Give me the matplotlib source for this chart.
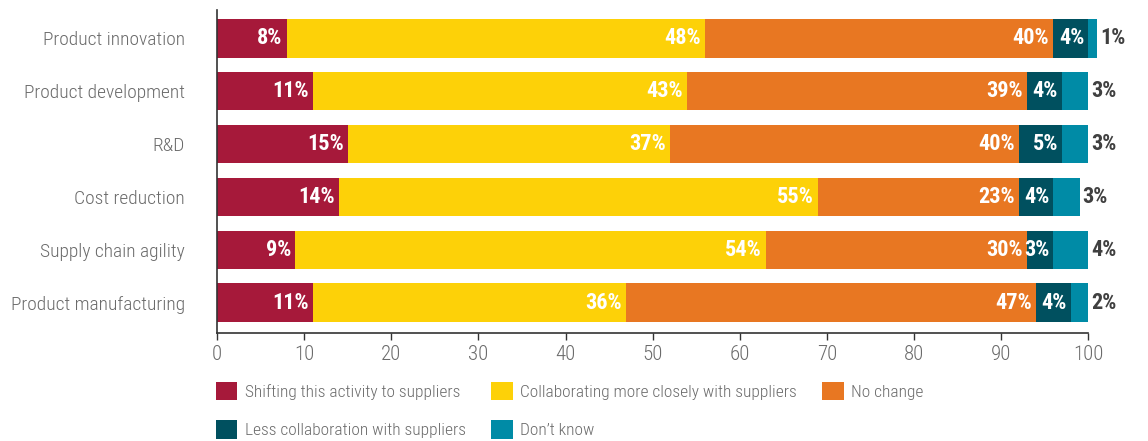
import matplotlib
matplotlib.use('Agg')
import matplotlib.pyplot as plt
import numpy as np

plt.rcParams['font.family'] = ['Roboto Condensed', 'Fira Sans Condensed', 'DejaVu Sans']

CATEGORIES = ['Product innovation', 'Product development', 'R&D',
              'Cost reduction', 'Supply chain agility', 'Product manufacturing']

SERIES = ['Shifting this activity to suppliers',
          'Collaborating more closely with suppliers',
          'No change',
          'Less collaboration with suppliers',
          "Don\u2019t know"]

SHIFTING = [8, 11, 15, 14, 9, 11]
COLLABORATING = [48, 43, 37, 55, 54, 36]
NO_CHANGE = [40, 39, 40, 23, 30, 47]
LESS_COLLAB = [4, 4, 5, 4, 3, 4]
DONT_KNOW = [1, 3, 3, 3, 4, 2]

COLORS = ['#A6193A', '#FDD108', '#E87722', '#00505F', '#008BA6']
TEXT_GRAY = '#6b6b6b'
LABEL_DARK = '#404040'

values = [SHIFTING, COLLABORATING, NO_CHANGE, LESS_COLLAB, DONT_KNOW]

fig = plt.figure(figsize=(11.48, 4.41), dpi=100)
ax = fig.add_axes([0.189, 0.245, 0.759, 0.732])

y = np.arange(len(CATEGORIES))
left = np.zeros(len(CATEGORIES))
bars = []
for i, (name, vals, clr) in enumerate(zip(SERIES, values, COLORS)):
    vals = np.array(vals, dtype=float)
    b = ax.barh(y, vals, left=left, height=0.73, color=clr, label=name)
    for p in b:
        p.set_clip_on(False)  # some rows add up to 101
    bars.append(b)
    for yi, (l, v) in enumerate(zip(left, vals)):
        end = l + v
        if i < len(SERIES) - 1:
            ax.annotate(f'{int(v)}%', (end, yi), xytext=(-3, 0),
                        textcoords='offset points', ha='right', va='center',
                        color='white', fontsize=16, fontweight='bold',
                        annotation_clip=False)
        else:
            ax.annotate(f'{int(v)}%', (end, yi), xytext=(2, 0),
                        textcoords='offset points', ha='left', va='center',
                        color=LABEL_DARK, fontsize=16, fontweight='bold',
                        annotation_clip=False)
    left = left + vals

ax.set_xlim(0, 100)
ax.set_ylim(5.57, -0.53)
ax.set_yticks(y)
ax.set_yticklabels(CATEGORIES, fontweight='light')
ax.set_xticks(np.arange(0, 101, 10))
for t in ax.get_xticklabels():
    t.set_fontweight('light')

for s in ['top', 'right']:
    ax.spines[s].set_visible(False)
for s in ['left', 'bottom']:
    ax.spines[s].set_color('#333333')
    ax.spines[s].set_linewidth(1.2)

ax.tick_params(axis='y', length=0, pad=23, labelsize=14, labelcolor=TEXT_GRAY)
ax.tick_params(axis='x', length=5, width=1, color='#333333', pad=4,
               labelsize=15, labelcolor=TEXT_GRAY)

# legend: first row shifting/collab/no change, second row the rest
order = [0, 3, 1, 4, 2]
leg = ax.legend([bars[k] for k in order], [SERIES[k] for k in order],
                ncol=3, loc='upper left', bbox_to_anchor=(-0.0014, -0.152),
                frameon=False, prop={'size': 12.5, 'weight': 'light'},
                handlelength=1.25, handleheight=1.25,
                handletextpad=0.42, columnspacing=1.45, labelspacing=1.15,
                borderaxespad=0, borderpad=0)
for t in leg.get_texts():
    t.set_color(TEXT_GRAY)

fig.savefig('out.png', dpi=100)
